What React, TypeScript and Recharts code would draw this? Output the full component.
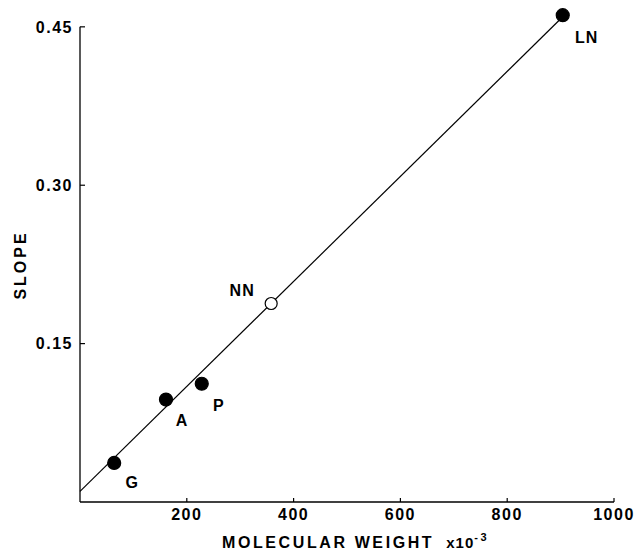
import { ScatterChart, Scatter, XAxis, YAxis, ReferenceLine } from 'recharts';

const names = ['G', 'A', 'P', 'NN', 'LN'];
const molWeights = [64, 161, 228, 358, 904];
const slopes = [0.037, 0.097, 0.112, 0.188, 0.461];
const openMarker = [false, false, false, true, false];

const fitX = [0, 905];
const fitY = [0.01, 0.46];

const xTicks = [200, 400, 600, 800, 1000];
const yTicks = [0.15, 0.3, 0.45];
const yAxisTop = 0.45;

const points = names.map((name, i) => ({
  name,
  x: molWeights[i],
  y: slopes[i],
  open: openMarker[i],
}));
const fitLine = fitX.map((x, i) => ({ x, y: fitY[i] }));

// where each point's name sits relative to its marker
const labelOffset: Record<string, [number, number]> = {
  G: [18, 25],
  A: [16, 26],
  P: [17, 27],
  NN: [-29, -7],
  LN: [24, 28],
};

const FONT = '"Liberation Sans", Arial, sans-serif';

const PointShape = (props: any) => {
  const { cx, cy, payload } = props;
  const [dx, dy] = labelOffset[payload.name] || [12, 12];
  return (
    <g>
      <circle
        cx={cx}
        cy={cy}
        r={payload.open ? 6 : 6.5}
        fill={payload.open ? '#fff' : '#000'}
        stroke="#000"
        strokeWidth={1.2}
      />
      <text
        x={cx + dx}
        y={cy + dy}
        textAnchor="middle"
        fontFamily={FONT}
        fontWeight="bold"
        fontSize={16}
        letterSpacing={1}
        fill="#000"
      >
        {payload.name}
      </text>
    </g>
  );
};

const YTitle = (props: any) => {
  const { viewBox } = props;
  const x = viewBox.x + 6;
  const y = 265;
  return (
    <text
      x={x}
      y={y}
      transform={`rotate(-90 ${x} ${y})`}
      textAnchor="middle"
      fontFamily={FONT}
      fontWeight="bold"
      fontSize={16}
      letterSpacing={3}
      fill="#000"
    >
      SLOPE
    </text>
  );
};

const XTitle = (props: any) => {
  const { viewBox } = props;
  const y = viewBox.y + 46;
  return (
    <text
      x={222}
      y={y}
      fontFamily={FONT}
      fontWeight="bold"
      fontSize={16}
      letterSpacing={2.6}
      fill="#000"
    >
      MOLECULAR WEIGHT
      <tspan dx={12} fontSize={15} letterSpacing={1}>x10</tspan>
      <tspan dy={-7} fontSize={11}>-3</tspan>
    </text>
  );
};

const tickStyle = {
  fill: '#000',
  fontFamily: FONT,
  fontWeight: 'bold',
  fontSize: 16,
  letterSpacing: 1.5,
};

const App = () => {
  return (
    <div style={{ position: 'absolute', left: 0, top: 0, background: '#fff' }}>
      <ScatterChart
        width={639}
        height={552}
        margin={{ top: 11, right: 25, bottom: 20, left: 20 }}
      >
        <XAxis
          type="number"
          dataKey="x"
          domain={[0, 1000]}
          ticks={xTicks}
          height={30}
          axisLine={{ stroke: '#000', strokeWidth: 1.3 }}
          tickLine={{ stroke: '#000', strokeWidth: 1.2 }}
          tickSize={-4}
          tickMargin={11}
          tick={tickStyle}
          label={<XTitle />}
        />
        <YAxis
          type="number"
          dataKey="y"
          domain={[0, 0.465]}
          ticks={yTicks}
          width={60}
          axisLine={false}
          tickLine={{ stroke: '#000', strokeWidth: 1.2 }}
          tickSize={-5}
          tickMargin={12}
          tickFormatter={(v: number) => v.toFixed(2)}
          tick={tickStyle}
          label={<YTitle />}
        />
        <ReferenceLine
          segment={[
            { x: 0, y: 0 },
            { x: 0, y: yAxisTop },
          ]}
          stroke="#000"
          strokeWidth={1.3}
        />
        <Scatter
          data={fitLine}
          line={{ stroke: '#000', strokeWidth: 1.2 }}
          shape={() => <g />}
          isAnimationActive={false}
        />
        <Scatter data={points} shape={<PointShape />} isAnimationActive={false} />
      </ScatterChart>
    </div>
  );
};

export default App;
